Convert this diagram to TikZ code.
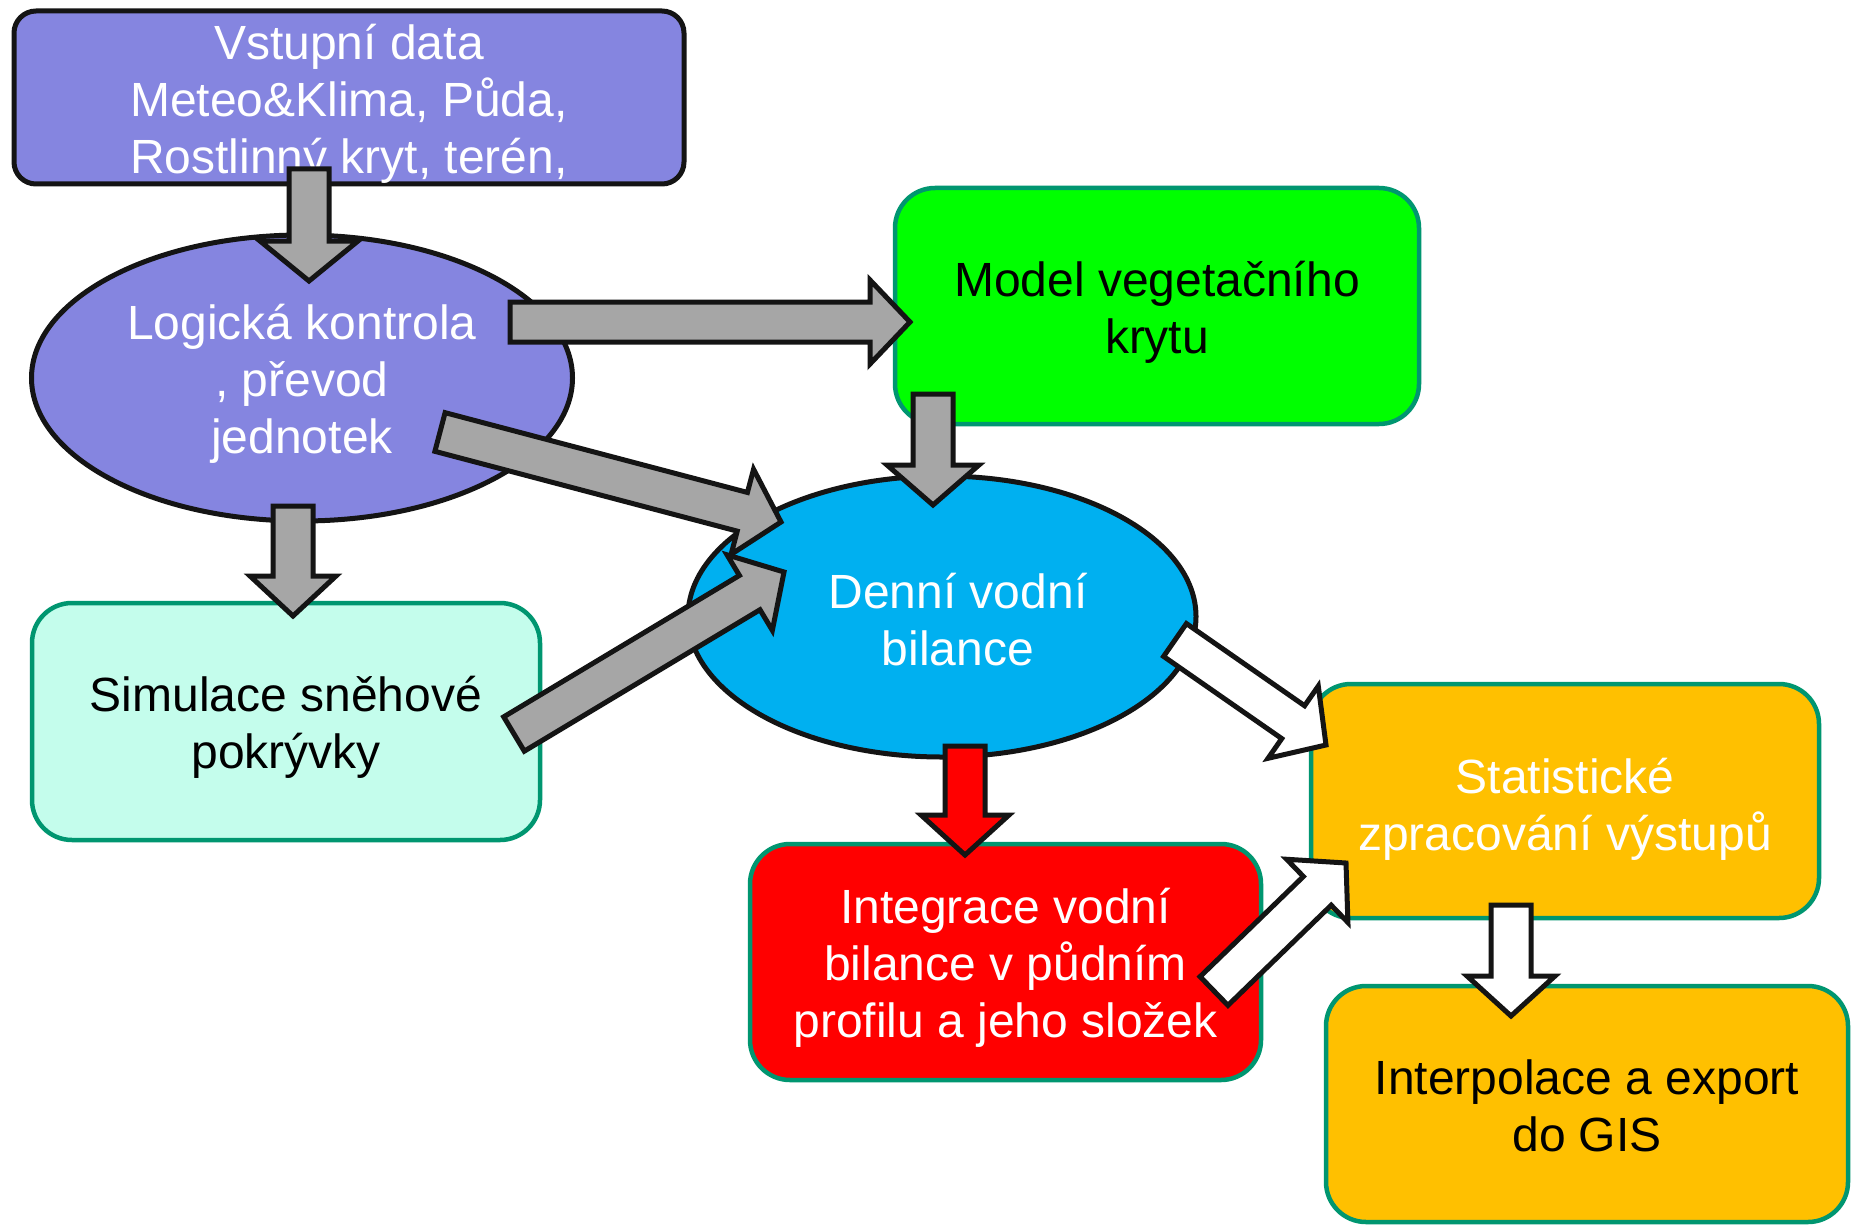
\documentclass[tikz,border=0pt]{standalone}
\usepackage{fontspec}
\setmainfont{Liberation Sans}
\usetikzlibrary{shapes.geometric,calc}
\definecolor{cPurple}{RGB}{133,133,224}
\definecolor{cGreen}{RGB}{0,255,0}
\definecolor{cBlue}{RGB}{0,176,240}
\definecolor{cMint}{RGB}{196,253,236}
\definecolor{cRed}{RGB}{255,0,0}
\definecolor{cOrange}{RGB}{255,192,0}
\definecolor{cTeal}{RGB}{0,150,112}
\definecolor{cEdge}{RGB}{20,20,20}
\definecolor{cGray}{RGB}{166,166,166}
\newcommand\barr[4]{% fill, from, to, head half width
  \coordinate (hb) at ($(#3)!40pt!(#2)$);
  \draw[barrow,fill=#1] ($(#2)!20pt!90:(#3)$) -- ($(hb)!20pt!90:(#3)$) -- ($(hb)!#4!90:(#3)$) -- (#3) -- ($(hb)!#4!-90:(#3)$) -- ($(hb)!20pt!-90:(#3)$) -- ($(#2)!20pt!-90:(#3)$) -- cycle;}
\begin{document}
\begin{tikzpicture}[x=1pt,y=-1pt,
  txt/.style={align=center,font=\fontsize{48}{57}\selectfont,inner sep=0pt,text=white,yshift=-6pt},
  btxt/.style={txt,text=black},
  tbox/.style={inner sep=0pt,draw=cTeal,line width=4.5pt,rounded corners=40pt},
  kbox/.style={inner sep=0pt,draw=cEdge,line width=5pt,rounded corners=22pt},
  kell/.style={inner sep=0pt,ellipse,draw=cEdge,line width=5pt},
  barrow/.style={draw=cEdge,line width=5pt,line join=miter}]
\useasboundingbox (0,0) rectangle (1854,1225);
\fill[white] (0,0) rectangle (1854,1225);
% nodes
\node[kbox,fill=cPurple,minimum width=670pt,minimum height=173pt,
  label={[txt]center:Vstupní data\\Meteo\&Klima, Půda,\\Rostlinný kryt, terén,}] (vstup) at (349,97.5) {};
\node[kell,fill=cPurple,minimum width=541pt,minimum height=286pt,
  label={[txt]center:Logická kontrola\\, převod\\jednotek}] (logic) at (302,378) {};
\node[tbox,fill=cGreen,minimum width=524pt,minimum height=236pt,
  label={[btxt]center:Model vegetačního\\krytu}] (model) at (1157,306) {};
\node[kell,fill=cBlue,minimum width=508pt,minimum height=281pt,
  label={[txt,xshift=16pt,yshift=3pt]center:Denní vodní\\bilance}] (denni) at (942,616.5) {};
\node[tbox,fill=cMint,minimum width=508pt,minimum height=237pt,
  label={[btxt]center:Simulace sněhové\\pokrývky}] (snih) at (286,721.5) {};
\node[tbox,fill=cRed,minimum width=511pt,minimum height=236pt,
  label={[txt]center:Integrace vodní\\bilance v půdním\\profilu a jeho složek}] (integ) at (1005.5,962) {};
\node[tbox,fill=cOrange,minimum width=508pt,minimum height=234pt,
  label={[txt,yshift=-2pt]center:Statistické\\zpracování výstupů}] (stat) at (1565,801) {};
\node[tbox,fill=cOrange,minimum width=522pt,minimum height=236pt,
  label={[btxt,yshift=4pt]center:Interpolace a export\\do GIS}] (interp) at (1587,1104) {};
% connector end points
\coordinate (a1s) at (309,169);  \coordinate (a1e) at (309,281);
\coordinate (a2s) at (510,322);  \coordinate (a2e) at (910,322);
\coordinate (a3s) at (933,394);  \coordinate (a3e) at (933,505);
\coordinate (a4s) at (440,432);  \coordinate (a4e) at (781,522);
\coordinate (a5s) at (514,734);  \coordinate (a5e) at (784,572);
\coordinate (a6s) at (293,506);  \coordinate (a6e) at (293,616);
\coordinate (a7s) at (965,746);  \coordinate (a7e) at (965,855);
\coordinate (a8s) at (1175,640); \coordinate (a8e) at (1326,745);
\coordinate (a9s) at (1214,991); \coordinate (a9e) at (1346,863);
\coordinate (a10s) at (1511,905); \coordinate (a10e) at (1511,1016);
% block arrows
\barr{cGray}{a1s}{a1e}{49pt}
\barr{cGray}{a2s}{a2e}{42pt}
\barr{cGray}{a3s}{a3e}{46pt}
\barr{cGray}{a4s}{a4e}{44pt}
\barr{cGray}{a5s}{a5e}{44pt}
\barr{cGray}{a6s}{a6e}{43pt}
\barr{cRed}{a7s}{a7e}{44pt}
\barr{white}{a8s}{a8e}{44pt}
\barr{white}{a9s}{a9e}{44pt}
\barr{white}{a10s}{a10e}{44pt}
\end{tikzpicture}
\end{document}
